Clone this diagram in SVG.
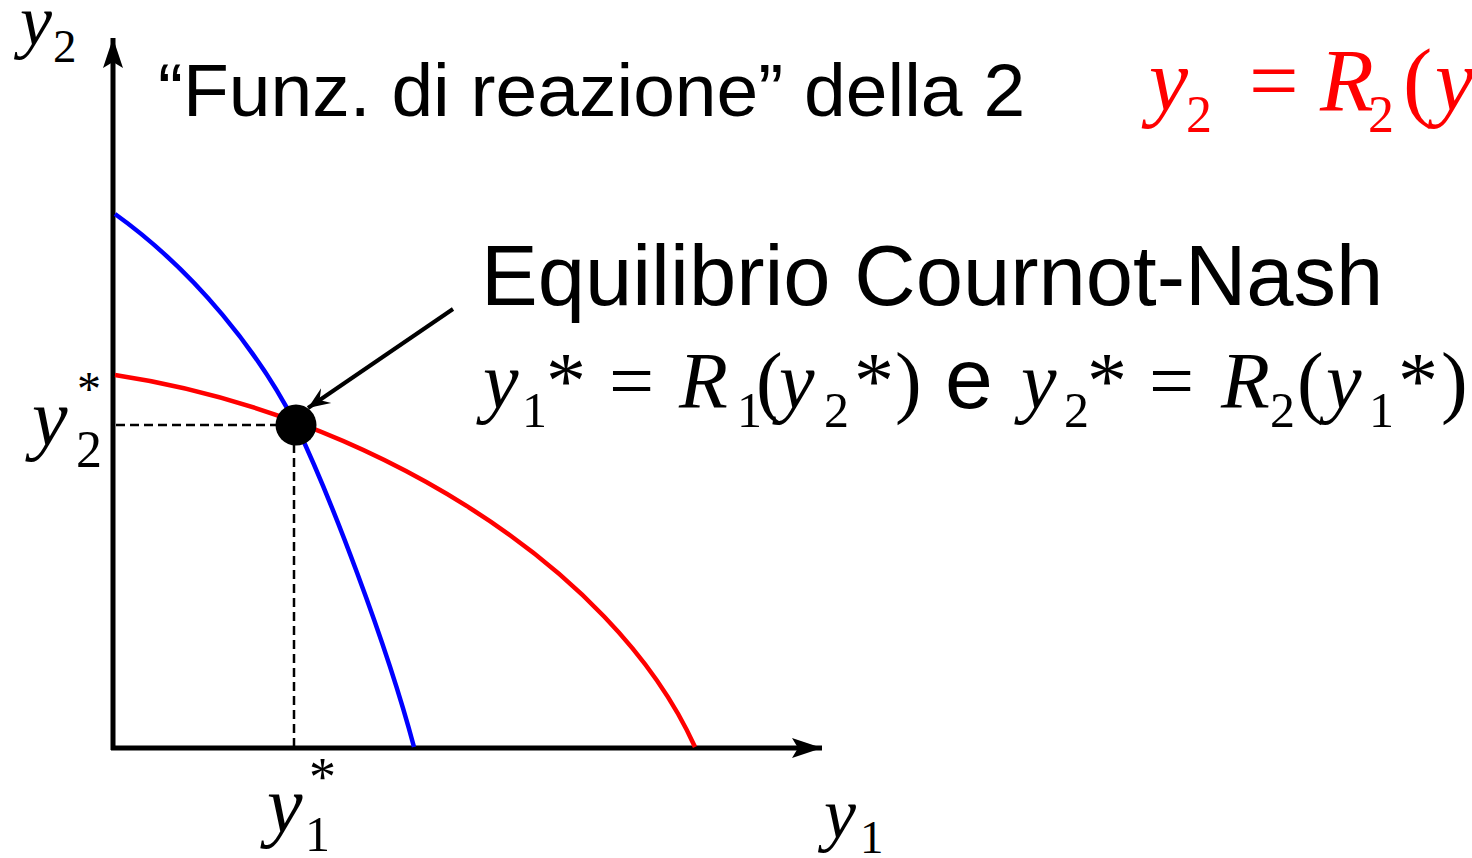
<svg xmlns="http://www.w3.org/2000/svg" width="1472" height="858" viewBox="0 0 1472 858">
  <style>
    .sans { font-family: "Liberation Sans", Arial, sans-serif; fill: #000; }
    .ser { font-family: "Liberation Serif", "Times New Roman", serif; fill: #000; }
    .it { font-style: italic; }
    .red { fill: #ff0000; }
    .axis { stroke: #000; stroke-width: 5; fill: none; }
    .dash { stroke: #000; stroke-width: 2.5; stroke-dasharray: 9 5; fill: none; }
  </style>
  <defs>
    <marker id="axhead" markerUnits="userSpaceOnUse" markerWidth="40" markerHeight="24" refX="30" refY="10" orient="auto" viewBox="0 0 40 24">
      <path d="M30,10 L0,0 L6,10 L0,20 Z" fill="#000"/>
    </marker>
    <marker id="ptr" markerUnits="userSpaceOnUse" markerWidth="30" markerHeight="24" refX="22" refY="10" orient="auto" viewBox="0 0 30 24">
      <path d="M22,10 L0,1 L8,10 L0,19 Z" fill="#000"/>
    </marker>
  </defs>

  <rect width="1472" height="858" fill="#fff"/>

  <g id="axes">
    <line class="axis" x1="113" y1="750" x2="113" y2="38" marker-end="url(#axhead)"/>
    <line class="axis" x1="111" y1="748" x2="822" y2="748" marker-end="url(#axhead)"/>
  </g>

  <g id="guides">
    <line class="dash" x1="116" y1="425" x2="290" y2="425"/>
    <line class="dash" x1="294" y1="430" x2="294" y2="746"/>
  </g>

  <g id="curve-blue">
    <path d="M115,214 C196,272 260,354 296,425 C330,496 386,642 414,747" fill="none" stroke="#0000ff" stroke-width="4.5"/>
  </g>

  <g id="curve-red">
    <path d="M115,375 C362,412 612,563 695,747" fill="none" stroke="#ff0000" stroke-width="4.5"/>
  </g>

  <g id="equilibrium">
    <circle cx="296" cy="425" r="20.5" fill="#000"/>
  </g>

  <g id="connectors">
    <line x1="453" y1="309" x2="308" y2="408" stroke="#000" stroke-width="4" marker-end="url(#ptr)"/>
  </g>

  <g id="label-y2-axis">
    <text class="ser it" x="20" y="45" font-size="72">y</text>
    <text class="ser" x="53" y="62" font-size="47">2</text>
  </g>

  <g id="label-y1-axis">
    <text class="ser it" x="824" y="838" font-size="72">y</text>
    <text class="ser" x="860" y="853" font-size="47">1</text>
  </g>

  <g id="label-y2star">
    <text class="ser it" x="32" y="445" font-size="80">y</text>
    <text class="ser" x="76" y="467" font-size="52">2</text>
    <text class="ser" x="77" y="405" font-size="48">*</text>
  </g>

  <g id="label-y1star">
    <text class="ser it" x="267" y="832" font-size="80">y</text>
    <text class="ser" x="305" y="851" font-size="50">1</text>
    <text class="ser" x="309" y="795" font-size="54">*</text>
  </g>

  <g id="title">
    <text class="sans" x="158" y="116" font-size="75">“Funz. di reazione” della 2</text>
  </g>

  <g id="reaction-eq">
    <text class="ser it red" x="1149" y="110" font-size="88">y</text>
    <text class="ser red" x="1186" y="132" font-size="52">2</text>
    <text class="ser red" x="1249" y="110" font-size="88">=</text>
    <text class="ser it red" x="1320" y="110" font-size="88">R</text>
    <text class="ser red" x="1368" y="132" font-size="52">2</text>
    <text class="ser red" x="1403" y="110" font-size="88">(</text>
    <text class="ser it red" x="1435" y="110" font-size="88">y</text>
  </g>

  <g id="eq-label">
    <text class="sans" x="481" y="305" font-size="85">Equilibrio Cournot-Nash</text>
    <text class="ser it" x="483" y="408" font-size="80">y</text>
    <text class="ser" x="522" y="427" font-size="50">1</text>
    <text class="ser" x="546" y="408" font-size="80">*</text>
    <text class="ser" x="609" y="408" font-size="80">=</text>
    <text class="ser it" x="679" y="408" font-size="80">R</text>
    <text class="ser" x="737" y="427" font-size="50">1</text>
    <text class="ser" x="756" y="408" font-size="80">(</text>
    <text class="ser it" x="779" y="408" font-size="80">y</text>
    <text class="ser" x="824" y="427" font-size="50">2</text>
    <text class="ser" x="854" y="408" font-size="80">*</text>
    <text class="ser" x="895" y="408" font-size="80">)</text>
    <text class="sans" x="945" y="408" font-size="86">e</text>
    <text class="ser it" x="1021" y="408" font-size="80">y</text>
    <text class="ser" x="1064" y="427" font-size="50">2</text>
    <text class="ser" x="1087" y="408" font-size="80">*</text>
    <text class="ser" x="1149" y="408" font-size="80">=</text>
    <text class="ser it" x="1221" y="408" font-size="80">R</text>
    <text class="ser" x="1270" y="427" font-size="50">2</text>
    <text class="ser" x="1297" y="408" font-size="80">(</text>
    <text class="ser it" x="1326" y="408" font-size="80">y</text>
    <text class="ser" x="1369" y="427" font-size="50">1</text>
    <text class="ser" x="1398" y="408" font-size="80">*</text>
    <text class="ser" x="1441" y="408" font-size="80">)</text>
  </g>
</svg>
